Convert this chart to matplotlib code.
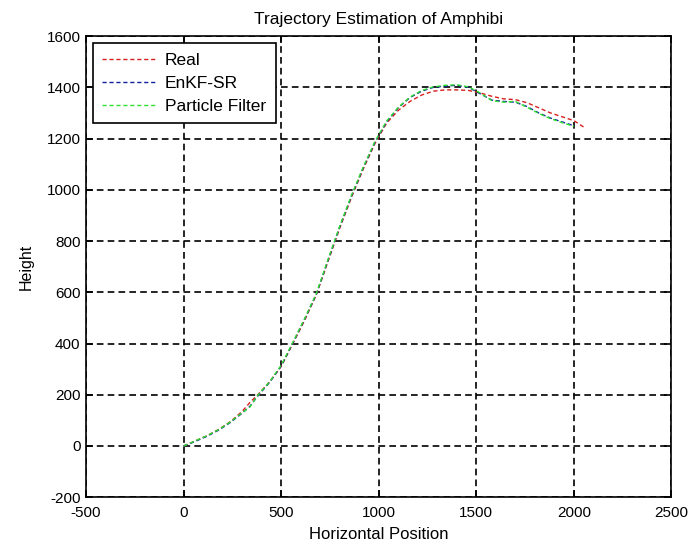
import matplotlib
matplotlib.use("Agg")
import matplotlib.pyplot as plt

plt.rcParams["font.family"] = ["Liberation Sans", "DejaVu Sans"]
plt.rcParams["axes.unicode_minus"] = False

# trajectories
real_x = [0, 60, 120, 180, 240, 300, 340, 380, 440, 500, 560, 620, 680, 740, 800, 860, 920,
          980, 1040, 1100, 1160, 1220, 1280, 1340, 1400, 1460, 1520, 1580, 1640, 1700,
          1760, 1820, 1880, 1940, 2000, 2050]
real_y = [0, 20, 40, 65, 95, 135, 170, 200, 250, 310, 400, 490, 590, 720, 850, 970, 1080,
          1180, 1260, 1310, 1345, 1370, 1385, 1390, 1390, 1388, 1378, 1365, 1355, 1352,
          1340, 1320, 1300, 1285, 1270, 1245]

enkf_x = [0, 60, 120, 180, 240, 300, 340, 380, 440, 500, 560, 620, 680, 740, 800, 860, 920,
          980, 1040, 1100, 1160, 1220, 1280, 1340, 1400, 1460, 1520, 1580, 1640, 1700,
          1760, 1820, 1880, 1940, 2000]
enkf_y = [0, 18, 38, 62, 92, 128, 155, 195, 248, 312, 402, 495, 592, 725, 855, 975, 1085,
          1185, 1265, 1320, 1360, 1385, 1400, 1405, 1408, 1400, 1375, 1350, 1345, 1342,
          1325, 1300, 1280, 1265, 1250]

pf_x = enkf_x
pf_y = [0, 20, 40, 64, 94, 130, 152, 198, 250, 315, 405, 497, 595, 728, 858, 978, 1088,
        1188, 1268, 1322, 1362, 1388, 1402, 1408, 1410, 1402, 1378, 1348, 1342, 1345,
        1322, 1298, 1278, 1262, 1248]

FS = 11

fig = plt.figure(figsize=(6.88, 5.47), dpi=100)
ax = fig.add_axes([0.125, 0.091, 0.851, 0.843])

ax.plot(real_x, real_y, "--", color="#d62020", lw=1.0, dashes=(3, 2), label="Real")
ax.plot(enkf_x, enkf_y, "--", color="#1020a0", lw=1.0, dashes=(3, 2), label="EnKF-SR")
ax.plot(pf_x, pf_y, "--", color="#30e030", lw=1.0, dashes=(3, 2), label="Particle Filter")

ax.set_xlim(-500, 2500)
ax.set_ylim(-200, 1600)
ax.set_xticks(range(-500, 2501, 500))
ax.set_yticks(range(-200, 1601, 200))
ax.grid(True, color="black", linestyle=(0, (4, 2.5)), linewidth=1.2)
ax.tick_params(direction="in", labelsize=FS, length=5, width=1.2, top=True, right=True)
ax.tick_params(axis="x", pad=6)
ax.tick_params(axis="y", pad=4)
for s in ax.spines.values():
    s.set_linewidth(1.2)

ax.set_title("Trajectory Estimation of Amphibi", fontsize=12.5, pad=9)
ax.set_xlabel("Horizontal Position", fontsize=12, labelpad=5)
ax.set_ylabel("Height", fontsize=11.5, labelpad=9)

leg = ax.legend(loc="upper left", fontsize=12.5, fancybox=False, framealpha=1,
                edgecolor="black", borderaxespad=0.4, handlelength=3.0,
                handletextpad=0.6, labelspacing=0.45, borderpad=0.55)
leg.get_frame().set_linewidth(1.2)

fig.savefig("out.png", dpi=100)
